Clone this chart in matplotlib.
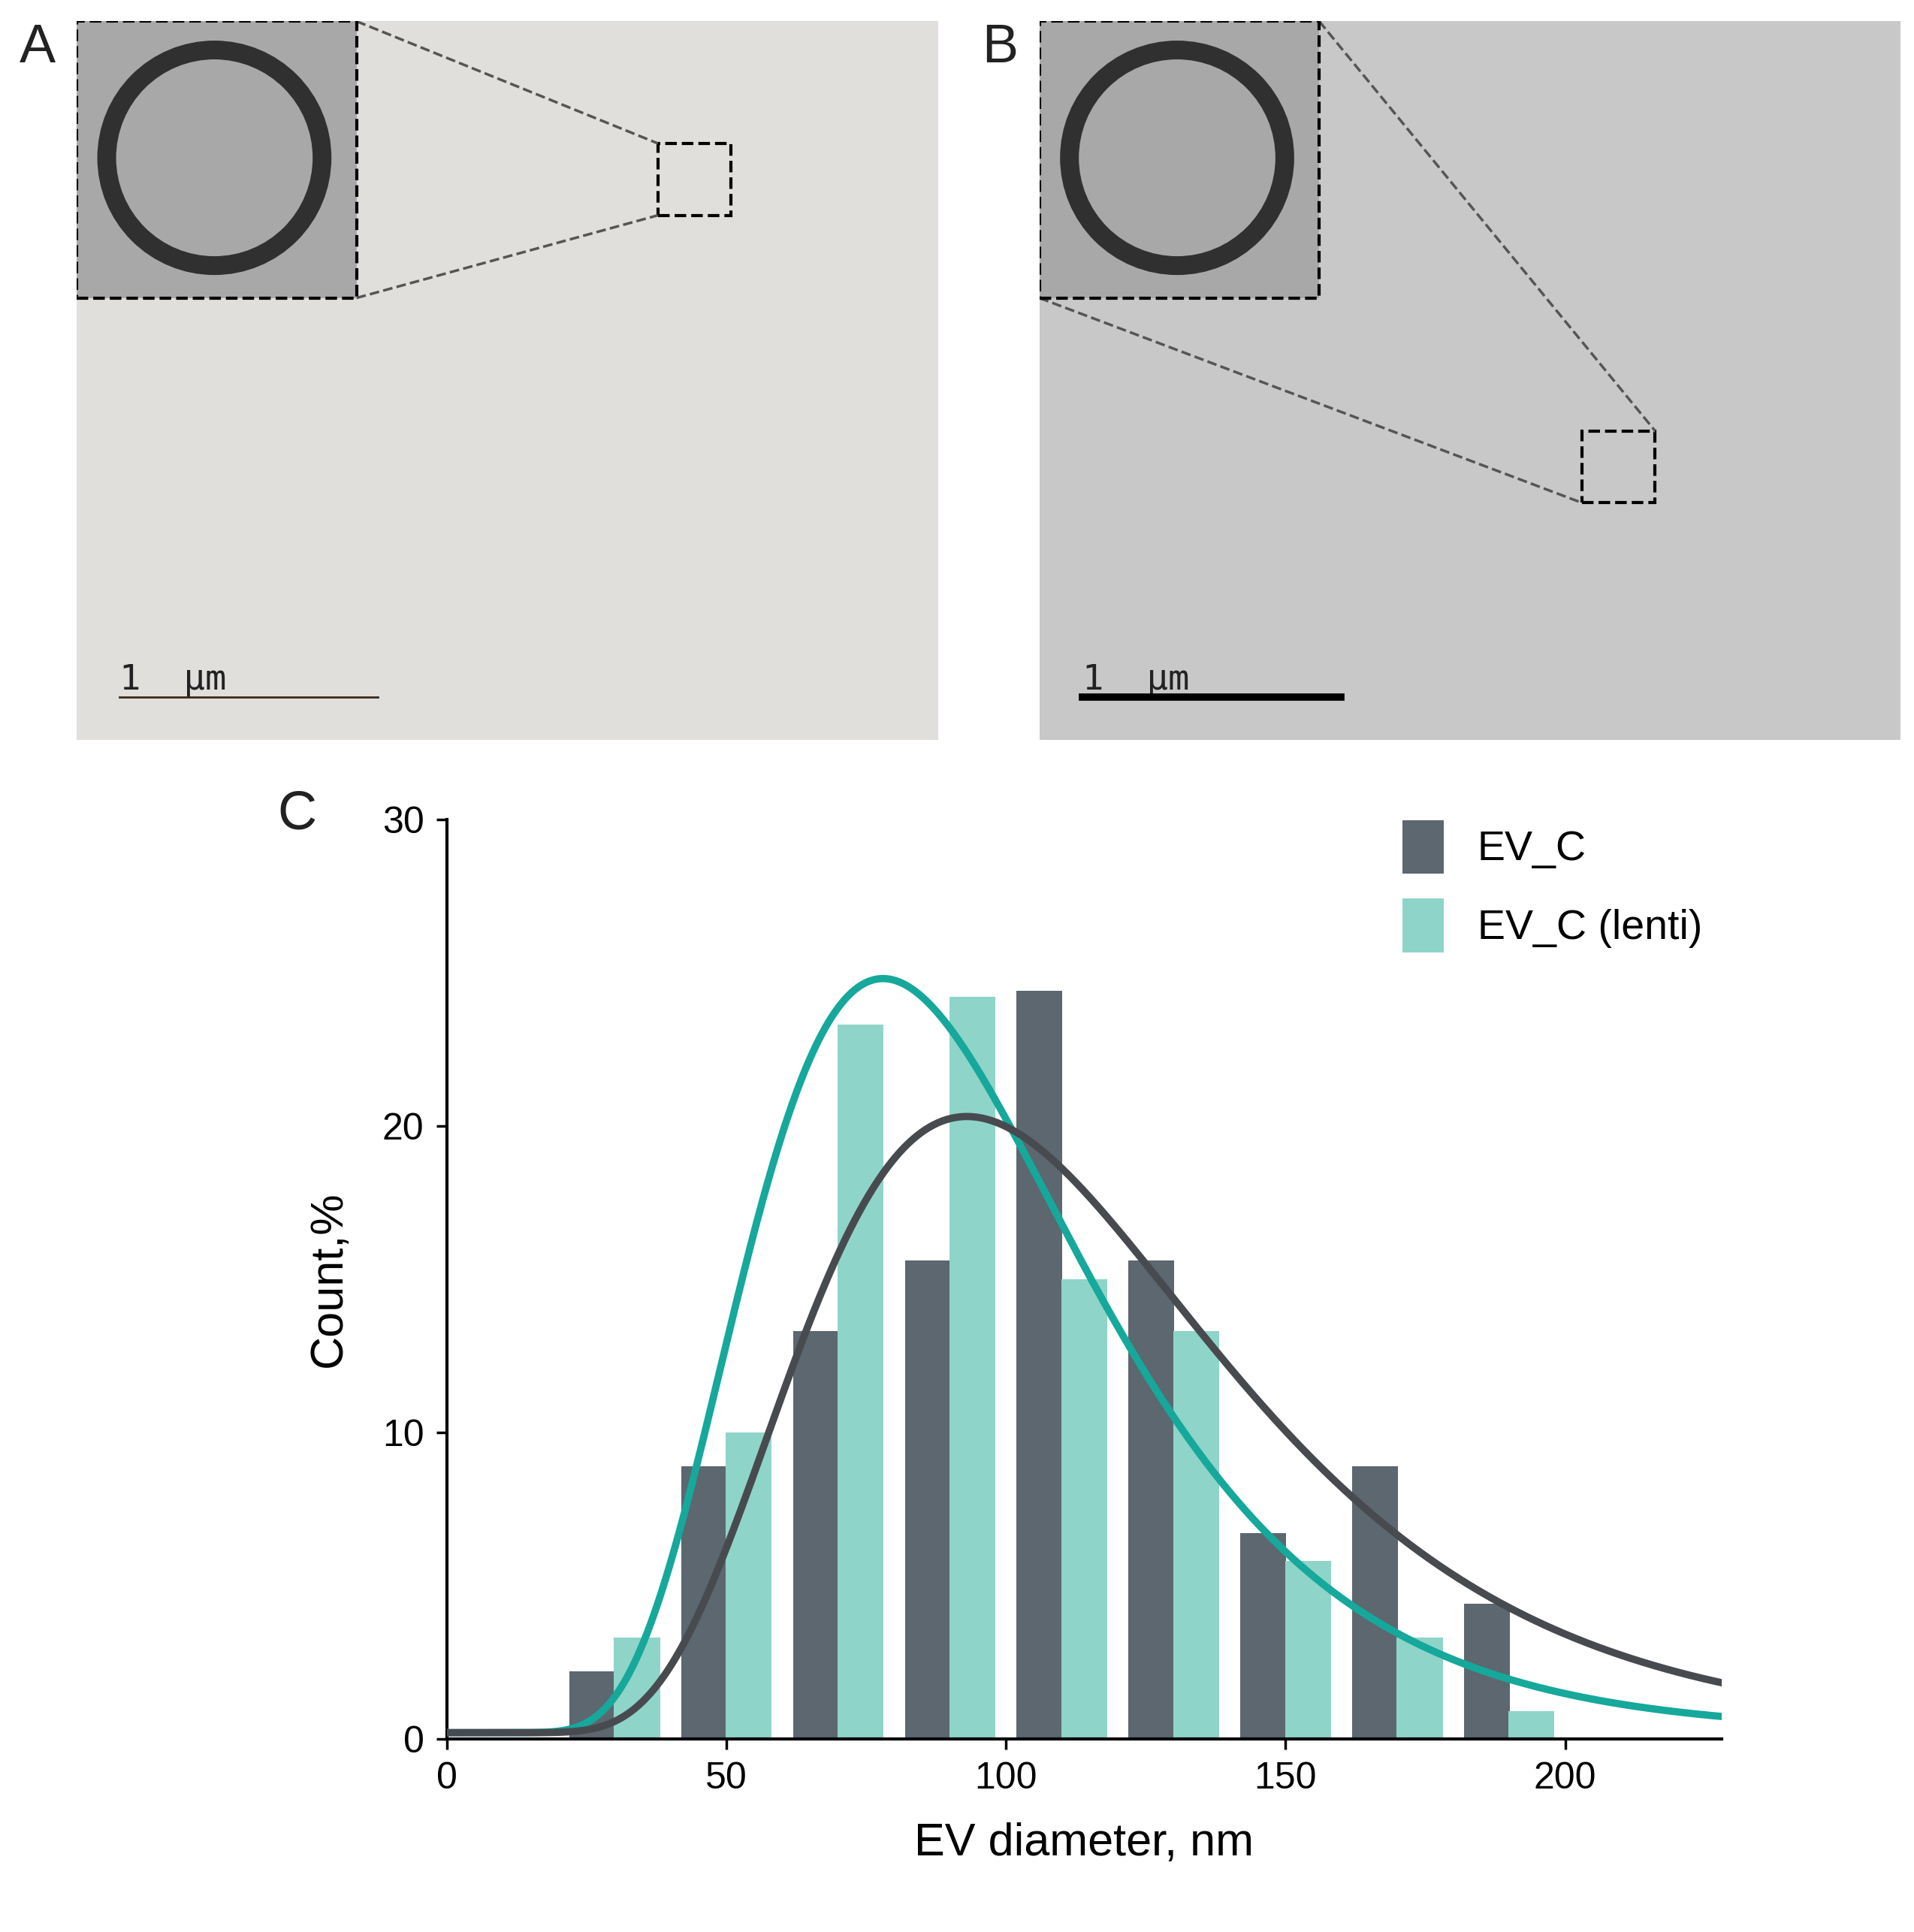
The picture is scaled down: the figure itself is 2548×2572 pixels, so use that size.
import numpy as np
import matplotlib
matplotlib.use("Agg")
import matplotlib.pyplot as plt
from matplotlib.patches import Rectangle, Ellipse

plt.rcParams['font.family'] = ['Liberation Sans', 'DejaVu Sans']

dark_centers = [26, 46, 66, 86, 106, 126, 146, 166, 186]
dark_vals = [2.2, 8.9, 13.3, 15.6, 24.4, 15.6, 6.7, 8.9, 4.4]
teal_centers = [34, 54, 74, 94, 114, 134, 154, 174, 194]
teal_vals = [3.3, 10.0, 23.3, 24.2, 15.0, 13.3, 5.8, 3.3, 0.9]
# log-normal fit parameters (mode, amplitude, sigma)
dark_fit = (93, 20.1, 0.40)
teal_fit = (78, 24.6, 0.387)
baseline = 0.2

c_dark = "#5c6770"
c_teal = "#8fd4c9"
l_dark = "#474b50"
l_teal = "#16a89b"

fig = plt.figure(figsize=(25.48, 25.72), dpi=100)
fig.patch.set_facecolor("white")

for left, lab, bar_col, bar_lw in [(0.04, "A", "#3a2a1a", 2), (0.543, "B", "black", 7)]:
    ax = fig.add_axes([left, 0.617, 0.45, 0.372])
    ax.set_xlim(0, 1); ax.set_ylim(0, 1)
    ax.set_facecolor("#c8c8c8" if lab == "B" else "#e0dfdc")
    ax.set_xticks([]); ax.set_yticks([])
    for s in ax.spines.values():
        s.set_visible(False)
    ax.add_patch(Rectangle((0, 0.615), 0.325, 0.385, facecolor="#a8a8a8", edgecolor="black",
                           ls="--", lw=3, zorder=3))
    ax.add_patch(Ellipse((0.16, 0.81), 0.25, 0.3, fill=False, lw=18, ec="#303030", zorder=4))
    ax.text(0.05, 0.07, "1  μm", fontsize=34, family="DejaVu Sans Mono", color="#222", zorder=5)
    ax.plot([0.05, 0.35], [0.06, 0.06], color=bar_col, lw=bar_lw, zorder=5)
    fig.text(left - 0.03, 0.975, lab, fontsize=52, va="center", color="#222")
ax = fig.axes[0]
ax.add_patch(Rectangle((0.675, 0.73), 0.085, 0.1, fill=False, ls="--", lw=3, ec="black"))
ax.plot([0.325, 0.675], [1.0, 0.83], ls="--", color="#555", lw=2.5)
ax.plot([0.325, 0.675], [0.615, 0.73], ls="--", color="#555", lw=2.5)
ax = fig.axes[1]
ax.add_patch(Rectangle((0.63, 0.33), 0.085, 0.1, fill=False, ls="--", lw=3, ec="black"))
ax.plot([0.325, 0.715], [1.0, 0.43], ls="--", color="#555", lw=2.5)
ax.plot([0.0, 0.63], [0.615, 0.33], ls="--", color="#555", lw=2.5)

ax = fig.add_axes([0.2335, 0.1, 0.666, 0.476])
ax.bar(dark_centers, dark_vals, width=8.2, color=c_dark, label="EV_C", zorder=2)
ax.bar(teal_centers, teal_vals, width=8.2, color=c_teal, label="EV_C (lenti)", zorder=2)
x = np.linspace(0.5, 230, 800)
for (m, A, s), col in [(teal_fit, l_teal), (dark_fit, l_dark)]:
    y = baseline + A * np.exp(-(np.log(x / m)) ** 2 / (2 * s ** 2))
    ax.plot(x, y, color=col, lw=7, zorder=3)
ax.set_xlim(0, 228)
ax.set_ylim(0, 30)
ax.set_xticks([0, 50, 100, 150, 200])
ax.set_yticks([0, 10, 20, 30])
ax.tick_params(labelsize=36, length=10, width=2.5, pad=12)
for s in ["top", "right"]:
    ax.spines[s].set_visible(False)
for s in ["left", "bottom"]:
    ax.spines[s].set_linewidth(3)
ax.set_xlabel("EV diameter, nm", fontsize=44, labelpad=25)
ax.set_ylabel("Count,%", fontsize=44, labelpad=30)
ax.legend(loc="upper left", bbox_to_anchor=(0.72, 1.04), fontsize=40, frameon=False,
          handlelength=1.0, handleheight=1.6, labelspacing=0.6)
fig.text(0.145, 0.578, "C", fontsize=52, va="center", color="#222")

fig.savefig("out.png", dpi=100)
